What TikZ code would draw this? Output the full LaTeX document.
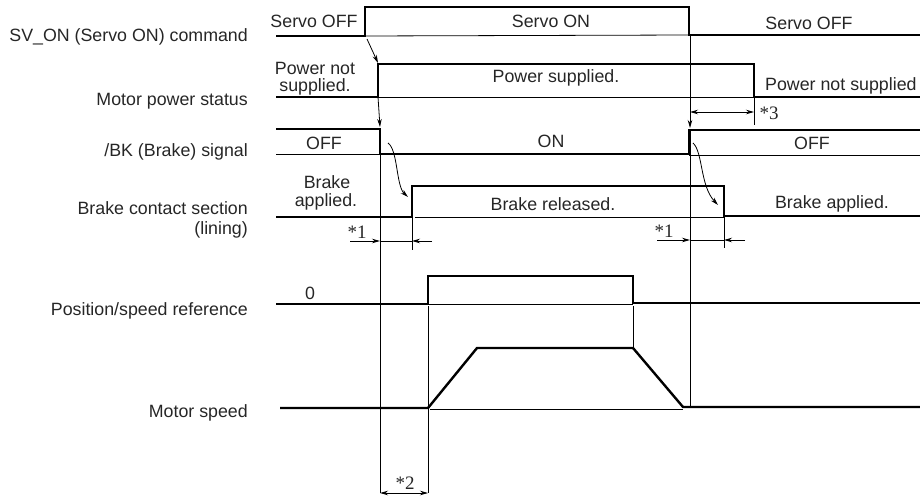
\documentclass[tikz,border=0pt]{standalone}
\usepackage{fontspec}
\setmainfont{Liberation Sans}
\newfontfamily\noteserif{Liberation Serif}
\usetikzlibrary{arrows.meta}
\begin{document}
\begin{tikzpicture}[x=1pt,y=-1pt,
  sig/.style={line width=2.4pt, line join=miter},
  fine/.style={line width=0.8pt},
  arr/.style={fine,-{Stealth[length=8pt,width=4.5pt]}},
  darr/.style={fine,{Stealth[length=8pt,width=4.5pt]}-{Stealth[length=8pt,width=4.5pt]}},
  lbl/.style={font=\fontsize{17.8}{20}\selectfont, text=black!85, inner sep=0pt},
  rowlbl/.style={lbl, anchor=east, align=right},
  note/.style={font=\noteserif\fontsize{19}{20}\selectfont, text=black!85, inner sep=0pt}
]
\useasboundingbox (0,0) rectangle (920,495);

% row labels
\node[rowlbl] (l1) at (248,37) {SV\_ON (Servo ON) command};
\node[rowlbl] (l2) at (248,101) {Motor power status};
\node[rowlbl] (l3) at (248,152) {/BK (Brake) signal};
\node[rowlbl] (l4) at (248,208) {Brake contact section};
\node[rowlbl] (l4b) at (248,230) {(lining)};
\node[rowlbl] (l5) at (248,311) {Position/speed reference};
\node[rowlbl] (l6) at (248,413) {Motor speed};

% key coordinates
\coordinate (svon) at (365,36);
\coordinate (svoff) at (689,35);
\coordinate (pon) at (378,97);
\coordinate (poff) at (754,97);

% SV_ON
\draw[sig] (276,36) -- (svon) -- (365,7) -- (689,7) -- (svoff) -- (920,35);
\draw[fine] (svon) -- (svoff);
\node[lbl] (t1) at (314,21) {Servo OFF};
\node[lbl] (t2) at (551,21) {Servo ON};
\node[lbl] (t3) at (809,23) {Servo OFF};

% Motor power
\draw[sig] (276,97) -- (pon) -- (378,64) -- (754,64) -- (poff) -- (920,97);
\draw[fine] (pon) -- (poff);
\node[lbl] (p1) at (315,68) {Power not};
\node[lbl] (p1b) at (315,87) {supplied.};
\node[lbl] (p2) at (556,78) {Power supplied.};
\node[lbl,anchor=west] (p3) at (765,86) {Power not supplied};

% /BK
\draw[sig] (276,129) -- (380,129) -- (380,154) -- (689,154) -- (689,130) -- (920,130);
\draw[fine] (276,154) -- (380,154);
\draw[fine] (689,155) -- (920,155);
\node[lbl] (b1) at (324,143) {OFF};
\node[lbl] (b2) at (551,141) {ON};
\node[lbl] (b3) at (812,143) {OFF};

% Brake contact
\draw[sig] (276,217) -- (412,217) -- (412,186) -- (724,186) -- (724,216) -- (920,216);
\draw[fine] (415,217) -- (724,217);
\node[lbl] (c1) at (327,182) {Brake};
\node[lbl] (c1b) at (326,202) {applied.};
\node[lbl] (c2) at (553,204) {Brake released.};
\node[lbl] (c3) at (832,204) {Brake applied.};

% Position/speed reference
\draw[sig] (276,304) -- (428,304) -- (428,276) -- (633,276) -- (633,303) -- (920,303);
\draw[fine] (428,304) -- (633,304);
\node[lbl] (r0) at (310,293) {0};

% Motor speed
\draw[sig] (280,408) -- (428,408) -- (477,348) -- (633,348) -- (683,407) -- (920,407);
\draw[fine] (430,409) -- (683,409);

% causal arrows and guide lines
\draw[arr] (367,39) -- (378,63);
\draw[arr] (pon) -- (380,127);
\draw[fine] (380,129) -- (380,493);
\draw[arr] (690,36) -- (690,128);
\draw[fine] (690,130) -- (690,407);
\draw[fine] (428,306) -- (428,493);
\draw[fine] (633,306) -- (633,348);
\draw[arr] (388,143) .. controls (398,150) and (396,186) .. (408,197);
\draw[arr] (693,143) .. controls (703,152) and (700,186) .. (718,205);

% *3
\draw[fine] (poff) -- (754,125);
\draw[darr] (690,112) -- (754,112);
\node[note] (n3) at (769,113) {*3};

% *1 left
\draw[fine] (412,218) -- (412,250);
\draw[arr] (350,241) -- (380,241);
\draw[fine] (380,241) -- (412,241);
\draw[arr] (432,241) -- (412,241);
\node[note] (n1a) at (357,232) {*1};

% *1 right
\draw[fine] (724,217) -- (724,248);
\draw[arr] (657,240) -- (690,240);
\draw[fine] (690,240) -- (724,240);
\draw[arr] (745,240) -- (724,240);
\node[note] (n1b) at (664,231) {*1};

% *2
\draw[darr] (380,493) -- (428,493);
\node[note] (n2) at (405,483) {*2};
\end{tikzpicture}
\end{document}
